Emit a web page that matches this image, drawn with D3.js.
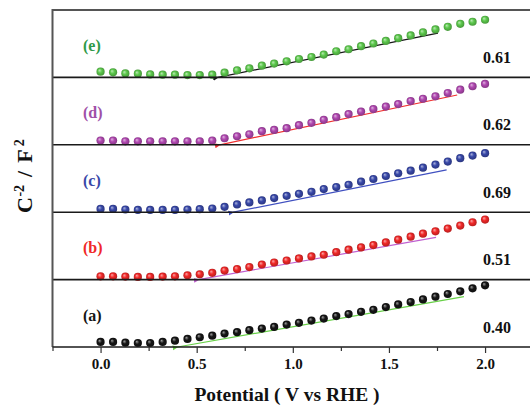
<!DOCTYPE html>
<html><head><meta charset="utf-8">
<script src="https://cdn.jsdelivr.net/npm/d3@7/dist/d3.min.js"></script>
<style>body{margin:0;background:#fff}svg{display:block}text{font-family:"Liberation Serif","Times New Roman",serif;font-weight:bold}</style>
</head><body><div id="chart"></div>
<script>
// ---- data ----
const potential = [0.000,0.065,0.129,0.194,0.258,0.323,0.387,0.452,0.516,0.581,0.645,0.710,0.774,0.839,0.903,0.968,1.032,1.097,1.161,1.226,1.290,1.355,1.419,1.484,1.548,1.613,1.677,1.742,1.806,1.871,1.935,2.000];
const seriesNames = ["(e)","(d)","(c)","(b)","(a)"];
const seriesA = [5,5,4.3,4,4,5,6.3,8,9.7,11.3,13.3,14.7,16.7,18.3,20,22.3,24,26.3,28.3,30.7,32.7,35,37,39.7,42.3,44.7,47.3,50,52.7,55.3,58.3,61.3];
const seriesB = [3.3,3.3,3,2.7,2.7,3,3.3,4.3,5.3,6.7,9,10.5,12.5,15,17,19,21,23,24.7,27.3,29.7,32,34.3,37,39.7,42.7,45.7,48,50.7,53.7,57,59.7];
const seriesC = [3.3,3.3,2.7,2.3,2.3,2.3,2.3,2.7,3,3.7,5.3,7.7,9.7,11.7,14,16.3,18.3,20.3,23,25,27.3,30.3,33,36,38.7,41.3,44.3,47.3,50.3,53.7,56.3,58.7];
const seriesD = [4.2,4.2,3.5,3.5,3.5,3.5,3.5,3.5,3.5,4.2,6.5,8.5,10.5,13.5,14.8,16.5,19.5,21.8,24.8,27.5,30.5,33,35.5,38,40.5,43.5,45.8,48.2,51.5,54.8,58.2,60.5];
const seriesE = [5.7,5,4,3.7,3,2.7,2.7,2.3,2.3,2.7,4.7,7,9,11.7,13.7,16,18.3,20.3,22.7,26,28,31,33.7,36.3,39,41.7,44.7,47.7,50.3,53.3,55.3,57.3];
const flatbandPotential = [0.61,0.62,0.69,0.51,0.40];   // fit intercepts (e..a)
const fitEndPotential = [1.755,1.855,1.80,1.745,1.89];
const fitEndValue = [44,49.5,42,42,50];
const valueLabels = ["0.61","0.62","0.69","0.51","0.40"];
const xTicks = [-0.25,0,0.25,0.5,0.75,1,1.25,1.5,1.75,2,2.25];
const xMajor = [0,0.5,1,1.5,2];

const pointColors = ["#5cc84c","#b048b0","#3848a8","#f02828","#151515"];
const fitColors = ["#151515","#f03030","#4050c0","#c060d0","#68d048"];
const labelColors = ["#2e9a48","#a050a8","#3848a8","#f02828","#151515"];
const allSeries = [seriesE,seriesD,seriesC,seriesB,seriesA];

// ---- layout ----
const W=530,H=406, mLeft=52.5, mRight=530, mTop=10, mBottom=347;
const svg=d3.select("#chart").append("svg").attr("width",W).attr("height",H);
const x=d3.scaleLinear().domain([-0.25,2.25]).range([mLeft,mLeft+192.25*2.5]);
const band=d3.scaleBand().domain(d3.range(5)).range([mTop,mBottom]).paddingInner(0);
const ph=band.bandwidth();

const defs=svg.append("defs");
pointColors.forEach((c,i)=>{
  const g=defs.append("radialGradient").attr("id","ball"+i).attr("cx","50%").attr("cy","50%").attr("r","55%").attr("fx","35%").attr("fy","32%");
  g.append("stop").attr("offset","0%").attr("stop-color",d3.interpolateRgb(c,"#fff")(0.6));
  g.append("stop").attr("offset","45%").attr("stop-color",c);
  g.append("stop").attr("offset","100%").attr("stop-color",d3.color(c).darker(0.9));
  defs.append("marker").attr("id","arr"+i).attr("viewBox","0 0 10 10").attr("refX",2).attr("refY",5)
    .attr("markerWidth",5).attr("markerHeight",5).attr("orient","auto-start-reverse")
    .append("path").attr("d","M0,5 L10,1 L10,9 Z").attr("fill",fitColors[i]);
});

allSeries.forEach((vals,i)=>{
  const y0=band(i);
  const y=d3.scaleLinear().domain([0,67]).range([y0+ph,y0]);
  const g=svg.append("g");
  g.append("line").attr("x1",x(flatbandPotential[i])).attr("y1",y(0))
    .attr("x2",x(fitEndPotential[i])).attr("y2",y(fitEndValue[i]))
    .attr("stroke",fitColors[i]).attr("stroke-width",1.2).attr("marker-start","url(#arr"+i+")");
  g.selectAll("circle").data(vals).join("circle")
    .attr("cx",(d,k)=>x(potential[k])).attr("cy",d=>y(d)).attr("r",4.1)
    .attr("fill","url(#ball"+i+")");
  g.append("text").attr("x",83).attr("y",y0+41).attr("font-size",16).attr("fill",labelColors[i]).text(seriesNames[i]);
  g.append("text").attr("x",511).attr("y",y0+53).attr("text-anchor","end").attr("font-size",16).attr("fill","#111").text(valueLabels[i]);
});

svg.selectAll("line.sep").data(d3.range(1,5)).join("line").attr("class","sep")
  .attr("x1",mLeft).attr("x2",mRight).attr("y1",i=>band(i)).attr("y2",i=>band(i))
  .attr("stroke","#1a1a1a").attr("stroke-width",1.6);
svg.append("path").attr("d",`M${mLeft},${mBottom}V${mTop}H${mRight}`).attr("fill","none").attr("stroke","#555").attr("stroke-width",2);

const ax=svg.append("g").attr("transform",`translate(0,${mBottom})`)
  .call(d3.axisBottom(x).tickValues(xTicks).tickSizeOuter(0).tickSize(5).tickPadding(6)
    .tickFormat(d=>xMajor.includes(d)?d3.format(".1f")(d):""));
ax.select(".domain").attr("d",`M${mLeft},0H${mRight}`).attr("stroke","#1a1a1a").attr("stroke-width",1.6);
ax.selectAll(".tick line").attr("stroke","#333").attr("stroke-width",1.2).attr("y2",d=>xMajor.includes(d)?6:4);
ax.selectAll(".tick text").attr("font-size",15).attr("fill","#111").attr("font-family",'"Liberation Serif",serif').attr("font-weight","bold");

svg.append("text").attr("x",287).attr("y",401).attr("text-anchor","middle").attr("font-size",19.5).attr("fill","#111").text("Potential ( V vs RHE )");
const yt=svg.append("text").attr("transform","translate(32,213) rotate(-90)").attr("text-anchor","start").attr("font-size",22).attr("fill","#111");
yt.append("tspan").text("C");
yt.append("tspan").attr("dx",0.5).attr("dy",-8).attr("font-size",14).text("-2");
yt.append("tspan").attr("dx",8).attr("dy",8).text("/");
yt.append("tspan").attr("dx",8).text("F");
yt.append("tspan").attr("dx",3).attr("dy",-8).attr("font-size",14).text("2");
</script></body></html>
